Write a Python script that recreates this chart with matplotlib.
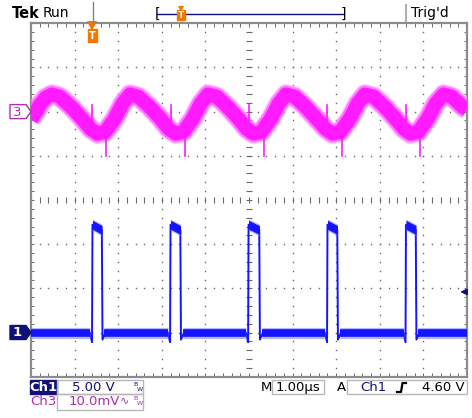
import matplotlib
matplotlib.use("Agg")
import matplotlib.pyplot as plt
from matplotlib.patches import Rectangle, Polygon
import numpy as np

W, H = 472, 418

# Ch3: AC-coupled ripple, time (us) and level (mV), 10 mV/div
ch3_t = [0.00, 0.21, 0.34, 0.48, 0.66, 0.92, 1.17, 1.37,
         1.53, 1.71, 1.92, 2.10, 2.27, 2.46, 2.72, 2.97, 3.16,
         3.32, 3.50, 3.71, 3.89, 4.06, 4.26, 4.51, 4.76, 4.95,
         5.11, 5.29, 5.50, 5.68, 5.85, 6.05, 6.30, 6.55, 6.76,
         6.92, 7.10, 7.31, 7.49, 7.66, 7.86, 8.11, 8.36, 8.55,
         8.71, 8.89, 9.10, 9.28, 9.46, 9.65, 9.90, 10.00]
ch3_mv = [-1.8, 1.6, 3.2, 3.9, 3.4, 1.1, -1.6, -3.9,
          -5.0, -4.5, -1.6, 1.8, 3.9, 3.4, 1.1, -1.6, -3.9,
          -5.0, -4.5, -1.6, 1.8, 3.9, 3.4, 1.1, -1.6, -3.9,
          -5.0, -4.5, -1.6, 1.8, 3.9, 3.4, 1.1, -1.6, -3.9,
          -5.0, -4.5, -1.6, 1.8, 3.9, 3.4, 1.1, -1.6, -3.9,
          -5.0, -4.5, -1.6, 1.8, 3.9, 3.4, 1.1, 0.5]
ch3_spike_up = 1.4     # mV, switching spike at each rising edge
ch3_spike_down = -10.0  # mV, switching spike at each falling edge

# Ch1: gate pulses, 5 V/div
pulse_rise = [1.41, 3.20, 4.99, 6.80, 8.60]
pulse_fall = [1.63, 3.43, 5.24, 7.03, 8.83]
pulse_top = [12.2, 11.6]   # volts at start / end of the pulse top
undershoot = [-1.1, -0.8]  # volts before rise / after fall

CH3_POS, CH1_POS = 2.0, -3.0   # marker positions in divisions
CH3_SCALE, CH1_SCALE = 10.0, 5.0
TRIG_LEVEL = 4.60

BLUE = "#1414ff"
MAG = "#ff1aff"
NAVY = "#10107a"
PURPLE = "#b02cb0"
ORANGE = "#f07800"
GRID = "#6a6a6a"

fig = plt.figure(figsize=(W / 100, H / 100), dpi=100)
fig.patch.set_facecolor("white")

x0, x1, y0, y1 = 31, 467, 23.3, 376.7
ax = fig.add_axes([x0 / W, 1 - y1 / H, (x1 - x0) / W, (y1 - y0) / H])
ax.set_xlim(0, 10)
ax.set_ylim(-4, 4)
ax.set_xticks([])
ax.set_yticks([])
for s in ax.spines.values():
    s.set_color("#8c8c8c")
    s.set_linewidth(1.6)


def P(x, y):
    return (x / W, 1 - y / H)


# graticule dots
fine = np.arange(0, 10.001, 0.2)
fine_v = np.arange(-4, 4.001, 0.2)
for gx in range(1, 10):
    if gx == 5:
        continue
    ax.plot(np.full(fine_v.size, gx), fine_v, ls="none", marker="s", ms=1.0,
            color=GRID, mew=0, zorder=1)
for gy in range(-3, 4):
    if gy == 0:
        continue
    ax.plot(fine, np.full(fine.size, gy), ls="none", marker="s", ms=1.0,
            color=GRID, mew=0, zorder=1)
# centre cross with minor ticks
ax.plot(np.full(fine_v.size, 5), fine_v, ls="none", marker="_", ms=4, mew=0.8,
        color=GRID, zorder=1)
ax.plot(fine, np.zeros(fine.size), ls="none", marker="|", ms=4, mew=0.8,
        color=GRID, zorder=1)
# border ticks
ax.plot(fine, np.full(fine.size, 3.97), ls="none", marker="|", ms=3, mew=0.7,
        color=GRID, zorder=1)
ax.plot(fine, np.full(fine.size, -3.97), ls="none", marker="|", ms=3, mew=0.7,
        color=GRID, zorder=1)
ax.plot(np.full(fine_v.size, 0.03), fine_v, ls="none", marker="_", ms=3, mew=0.7,
        color=GRID, zorder=1)
ax.plot(np.full(fine_v.size, 9.97), fine_v, ls="none", marker="_", ms=3, mew=0.7,
        color=GRID, zorder=1)

# Ch3 trace
t3 = np.array(ch3_t)
y3 = CH3_POS + np.array(ch3_mv) / CH3_SCALE
ax.plot(t3, y3, color="#ffa6ff", lw=15, solid_joinstyle="round",
        solid_capstyle="butt", alpha=0.55, zorder=3)
ax.plot(t3, y3, color="#ff55ff", lw=13, solid_joinstyle="round",
        solid_capstyle="butt", alpha=0.7, zorder=3)
ax.plot(t3, y3, color=MAG, lw=10, solid_joinstyle="round",
        solid_capstyle="butt", zorder=3)
for r, f in zip(pulse_rise, pulse_fall):
    yb = CH3_POS + np.interp(r, t3, ch3_mv) / CH3_SCALE
    ax.plot([r, r], [yb, CH3_POS + ch3_spike_up / CH3_SCALE], color=MAG,
            lw=1.2, zorder=3)
    yb = CH3_POS + np.interp(f + 0.1, t3, ch3_mv) / CH3_SCALE
    ax.plot([f + 0.1, f + 0.1], [yb, CH3_POS + ch3_spike_down / CH3_SCALE],
            color=MAG, lw=1.2, zorder=3)

# Ch1 trace
def v1(v):
    return CH1_POS + v / CH1_SCALE


edges_t, edges_v = [0.0], [0.0]
for r, f in zip(pulse_rise, pulse_fall):
    edges_t += [r - 0.06, r - 0.01, r, f - 0.005, f + 0.01, f + 0.08]
    edges_v += [0.0, undershoot[0], pulse_top[0], pulse_top[1], undershoot[1], 0.0]
edges_t.append(10.0)
edges_v.append(0.0)
ax.plot(edges_t, [v1(v) for v in edges_v], color=BLUE, lw=1.4, zorder=4)

starts = [0.0] + [f + 0.05 for f in pulse_fall]
ends = [r - 0.05 for r in pulse_rise] + [10.0]
for a, b in zip(starts, ends):
    ax.plot([a, b], [v1(0), v1(0)], color="#7a7aff", lw=8, alpha=0.55,
            solid_capstyle="butt", zorder=4)
    ax.plot([a, b], [v1(0), v1(0)], color=BLUE, lw=5.5, solid_capstyle="butt",
            zorder=4)
# pulse tops: noisy band about 10 px tall with a slight droop
half = 0.1
for r, f in zip(pulse_rise, pulse_fall):
    xs = [r, f]
    mid = [v1(pulse_top[0]), v1(pulse_top[1])]
    ax.fill_between(xs, [m + half * 1.3 for m in mid], [m - half * 1.3 for m in mid],
                    color="#7a7aff", alpha=0.55, lw=0, zorder=4)
    ax.fill_between(xs, [m + half for m in mid], [m - half for m in mid],
                    color=BLUE, lw=0, zorder=4)

# trigger level arrow on the right
ty = v1(TRIG_LEVEL)
ax.annotate("", xy=(9.78, ty), xytext=(10.0, ty),
            arrowprops=dict(arrowstyle="-|>", color=NAVY, lw=1.2,
                            mutation_scale=9), zorder=6)

# trigger position marker under the top border
tx = pulse_rise[0]
ax.plot([tx], [3.93], marker="v", ms=7, color=ORANGE, mew=0, zorder=6,
        clip_on=False)
ax.text(tx, 3.72, "T", ha="center", va="center", color="white", fontsize=7,
        fontweight="bold", zorder=7,
        bbox=dict(boxstyle="square,pad=0.15", fc=ORANGE, ec=ORANGE))

# channel ground markers
def marker(yc, label, filled, color):
    xs = [10, 26, 31, 26, 10]
    ys = [yc - 7, yc - 7, yc, yc + 7, yc + 7]
    pts = [P(x, y) for x, y in zip(xs, ys)]
    fig.patches.append(Polygon(pts, closed=True, transform=fig.transFigure,
                               fc=color if filled else "white", ec=color,
                               lw=1.0))
    fig.text(*P(17.5, yc + 0.5), label, ha="center", va="center",
             fontsize=9.5, color="white" if filled else color,
             fontweight="bold" if filled else "normal")


marker(111.6, "3", False, PURPLE)
marker(332.5, "1", True, NAVY)

# top status bar
fig.text(*P(12, 13), "Tek", fontsize=10.5, fontweight="bold", va="center",
         family="DejaVu Sans", color="black")
fig.text(*P(43, 13), "Run", fontsize=10, va="center", color="black")
fig.lines.append(plt.Line2D([93.3 / W] * 2, [1 - 2 / H, 1 - 23 / H],
                            transform=fig.transFigure, color="#808080", lw=1))
fig.lines.append(plt.Line2D([157 / W, 343 / W], [1 - 14 / H] * 2,
                            transform=fig.transFigure, color=NAVY, lw=1))
fig.text(*P(157, 13.5), "[", fontsize=10, va="center", ha="center")
fig.text(*P(343, 13.5), "]", fontsize=10, va="center", ha="center")
fig.text(*P(181, 15), "T", fontsize=6.5, va="center", ha="center",
         color="white", fontweight="bold",
         bbox=dict(boxstyle="square,pad=0.1", fc=ORANGE, ec=ORANGE))
fig.lines.append(plt.Line2D([181 / W], [1 - 8.5 / H], marker="v", ms=5,
                            color=ORANGE, mew=0, transform=fig.transFigure))
fig.lines.append(plt.Line2D([406 / W] * 2, [1 - 5 / H, 1 - 21 / H],
                            transform=fig.transFigure, color="#b0b0b0", lw=1.5))
fig.text(*P(411, 13), "Trig'd", fontsize=10, va="center", color="black")


# bottom readouts
def box(xa, ya, xb, yb, fc="none", ec="#b8b8b8"):
    fig.patches.append(Rectangle(P(xa, yb), (xb - xa) / W, (yb - ya) / H,
                                 transform=fig.transFigure, fc=fc, ec=ec,
                                 lw=1.0))


def bw(x, y, color):
    fig.text(*P(x, y - 2.5), "B", fontsize=4.5, color=color, ha="center",
             va="center")
    fig.text(*P(x + 3.5, y + 2), "W", fontsize=4.5, color=color, ha="center",
             va="center")


box(30, 380, 57, 394, fc=NAVY, ec=NAVY)
fig.text(*P(43.5, 387.5), "Ch1", fontsize=9.5, color="white",
         fontweight="bold", ha="center", va="center")
box(57, 380, 143, 394)
fig.text(*P(93, 387.5), "5.00 V", fontsize=9.5, color=NAVY, ha="center",
         va="center")
bw(136, 387.5, NAVY)

fig.text(*P(43.5, 401.5), "Ch3", fontsize=9.5, color=PURPLE, ha="center",
         va="center")
box(57, 394, 143, 410)
fig.text(*P(69, 401.5), "10.0mV", fontsize=9.5, color=PURPLE, ha="left",
         va="center")
fig.text(*P(124, 400), "∿", fontsize=8, color=PURPLE, ha="center",
         va="center")
bw(136, 401.5, PURPLE)

fig.text(*P(266, 387.5), "M", fontsize=9.5, color="black", ha="center",
         va="center")
box(272, 380, 324, 394)
fig.text(*P(298, 387.5), "1.00µs", fontsize=9.5, color="black",
         ha="center", va="center")
fig.text(*P(341, 387.5), "A", fontsize=9.5, color="black", ha="center",
         va="center")
box(347, 380, 467, 394)
fig.text(*P(373, 387.5), "Ch1", fontsize=9.5, color=NAVY, ha="center",
         va="center")
# rising-edge slope symbol
ex = [397, 401, 402.5, 406]
ey = [392, 392, 383, 383]
fig.lines.append(plt.Line2D([x / W for x in ex], [1 - y / H for y in ey],
                            transform=fig.transFigure, color="black", lw=1.6))
fig.text(*P(465, 387.5), "4.60 V", fontsize=9.5, color="black", ha="right",
         va="center")

fig.savefig("out.png", dpi=100, facecolor="white")
